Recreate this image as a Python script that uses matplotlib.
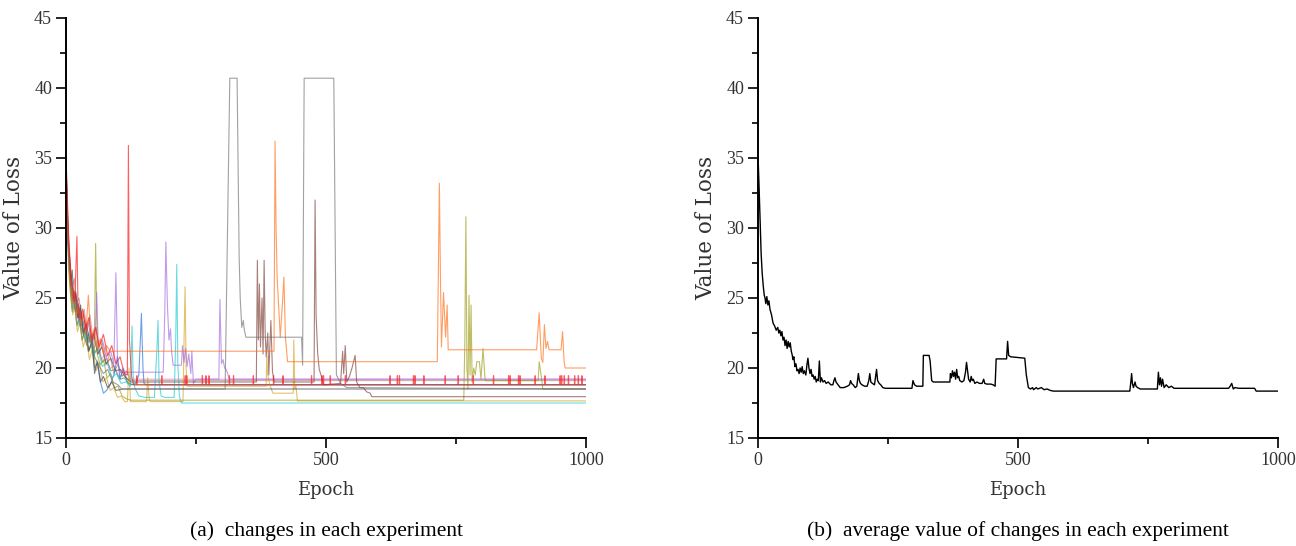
import matplotlib
matplotlib.use("Agg")
import matplotlib.pyplot as plt
from matplotlib.ticker import MultipleLocator

# ---------------------------------------------------------------------------
# Data
# ---------------------------------------------------------------------------

GRAY_X = [0, 3, 6, 10, 14, 18, 23, 28, 34, 40, 47, 55, 63, 72, 80, 90, 100, 107,
          306, 315, 329, 333, 335, 338, 341, 343, 346, 453, 455, 458, 515, 520, 528, 540, 1000]
GRAY_Y = [35.0, 31.0, 28.0, 26.4, 25.5, 24.0, 24.6, 23.0, 22.4, 21.6, 22.3, 20.8, 20.2, 19.6, 19.9, 19.0, 18.8, 18.5,
          18.5, 40.7, 40.7, 27.9, 25.0, 22.9, 23.4, 22.7, 22.2, 22.2, 20.2, 40.7, 40.7, 19.5, 18.9, 18.6, 18.5]

DARK_X = [0, 2, 4, 7, 9, 12, 15, 19, 24, 28, 33, 38, 44, 50, 55, 60, 66, 72, 80, 88, 96, 110, 1000]
DARK_Y = [35.3, 31.5, 29.0, 27.8, 26.0, 27.0, 24.8, 25.4, 23.6, 24.5, 22.4, 23.0, 21.2, 22.0, 19.6, 20.5, 19.0, 19.4,
          18.6, 19.0, 18.4, 18.5, 18.5]

ROSY_X = [0, 3, 6, 9, 12, 16, 20, 25, 30, 35, 40, 46, 52, 58, 64, 70, 77, 84, 92, 100, 108, 116, 125, 1000]
ROSY_Y = [34.0, 30.8, 28.5, 27.0, 25.8, 26.4, 24.6, 25.0, 23.4, 24.2, 22.6, 23.8, 22.0, 22.9, 21.0, 21.8, 20.2, 21.0,
          19.6, 20.3, 19.4, 19.8, 19.1, 19.1]

RED_X = [0, 2, 5, 8, 11, 14, 17, 21, 23, 27, 32, 38, 44, 50, 57, 64, 72, 80, 88, 96, 104, 112, 118, 120, 122, 126, 130]
RED_Y = [35.2, 33.0, 29.5, 27.5, 26.0, 25.2, 24.8, 29.4, 24.5, 23.5, 24.2, 22.8, 23.6, 22.0, 22.9, 21.5, 22.4, 20.9,
         21.6, 20.3, 20.8, 19.6, 19.5, 35.9, 22.0, 19.4, 18.8]
RED_BASE = 18.8
RED_PEAK = 19.45
RED_PULSES = [136, 184, 229, 232, 262, 269, 275, 314, 322, 360, 399, 417, 472, 492, 495, 508, 537,
              623, 637, 641, 668, 671, 688, 729, 754, 783, 822, 851, 854, 870, 873, 902, 921,
              950, 953, 958, 966, 978, 985, 992]

ORANGE_X = [0, 2, 4, 7, 10, 13, 16, 20, 24, 28, 33, 38, 43, 48, 54, 60, 66, 72, 78, 85,
            400, 402, 404, 406, 409, 412, 416, 419, 422, 426, 714, 716, 718, 720, 722, 726, 730, 733, 735,
            905, 910, 914, 917, 920, 923, 926, 929, 933, 952, 955, 958, 960, 1000]
ORANGE_Y = [34.0, 31.5, 28.8, 26.5, 25.9, 24.5, 25.2, 23.8, 24.6, 23.0, 23.9, 22.4, 25.2, 21.9, 22.8, 21.4, 22.1, 21.0, 21.6, 21.2,
            21.2, 36.2, 30.0, 26.5, 24.4, 22.2, 24.5, 26.5, 22.2, 20.45, 20.45, 26.6, 33.2, 26.8, 21.5, 25.4, 22.2, 24.5, 21.3,
            21.3, 23.95, 20.7, 20.4, 23.1, 21.4, 21.9, 21.3, 21.3, 21.3, 22.6, 20.4, 20.0, 20.0]

BROWN_X = [0, 3, 6, 9, 13, 17, 22, 27, 33, 39, 46, 53, 61, 69, 77, 86, 95, 105, 115, 125,
           366, 368, 370, 372, 374, 377, 379, 381, 383, 385, 388, 390, 394, 397, 400,
           477, 479, 481, 484, 487, 492, 495, 528, 532, 534, 537, 540, 545, 550, 556, 559, 565, 572, 578, 585, 588, 1000]
BROWN_Y = [34.5, 30.0, 27.8, 26.0, 24.8, 25.5, 23.6, 24.3, 22.6, 23.2, 21.8, 22.5, 21.0, 21.5, 20.3, 20.7, 19.8, 19.9, 19.3, 19.0,
           19.0, 27.7, 22.0, 26.0, 21.5, 25.0, 21.0, 27.7, 22.5, 20.8, 22.5, 19.5, 23.4, 19.8, 19.0,
           19.0, 32.0, 23.7, 21.05, 19.9, 19.3, 18.8, 18.9, 21.2, 19.6, 21.6, 19.0, 19.4, 20.0, 20.9, 19.0, 18.6, 18.6, 18.3, 18.2, 17.95, 17.95]

PURPLE_X = [0, 3, 6, 10, 14, 19, 24, 30, 36, 43, 50, 56, 59, 62, 70, 78, 86, 92, 96, 99, 104,
            187, 190, 192, 195, 198, 201, 203, 206, 222, 224, 227, 230, 233, 236, 240, 242, 245, 250,
            294, 296, 299, 302, 305, 308, 311, 314, 1000]
PURPLE_Y = [33.5, 30.5, 27.6, 26.0, 24.6, 25.2, 23.4, 24.0, 22.6, 23.2, 21.8, 22.4, 25.4, 21.6, 22.0, 20.8, 21.2, 20.3, 26.8, 20.5, 19.7,
            19.7, 24.0, 29.0, 24.5, 22.0, 22.8, 21.2, 20.2, 20.2, 21.6, 20.4, 21.4, 20.1, 21.0, 19.6, 21.2, 18.9, 19.2,
            19.2, 24.9, 20.3, 20.6, 20.0, 19.9, 19.6, 19.2, 19.2]

CYAN_X = [0, 3, 6, 10, 14, 19, 25, 31, 38, 45, 53, 61, 70, 79, 88, 97, 106, 115, 124, 127, 129, 132, 140,
          152, 170, 175, 177, 179, 183, 190, 208, 211, 213, 215, 218, 222, 1000]
CYAN_Y = [33.0, 29.0, 27.0, 25.6, 24.2, 24.8, 23.0, 23.6, 21.9, 22.5, 20.9, 21.4, 20.1, 20.4, 19.3, 19.6, 18.9, 19.0, 18.7, 23.0, 19.5, 18.6, 18.0,
          17.9, 17.9, 21.5, 23.4, 19.0, 18.0, 17.9, 17.9, 22.0, 27.4, 20.4, 18.0, 17.5, 17.5]

OLIVE_X = [0, 2, 5, 8, 12, 16, 21, 26, 31, 37, 43, 49, 54, 57, 60, 66, 72, 79, 86, 93, 100, 108, 116, 124,
           765, 767, 769, 771, 773, 775, 777, 779, 781, 784, 787, 790, 795, 798, 802, 806, 908, 910, 914, 917, 1000]
OLIVE_Y = [34.2, 31.0, 27.0, 25.5, 24.0, 24.6, 23.0, 23.5, 22.0, 22.6, 21.2, 21.8, 20.6, 28.9, 21.0, 20.2, 20.6, 19.3, 19.6, 18.6, 18.7, 18.0, 17.8, 17.7,
           17.7, 22.0, 30.8, 20.0, 18.5, 25.2, 19.5, 24.5, 19.0, 20.0, 19.5, 20.45, 20.45, 19.2, 21.4, 19.1, 19.1, 20.45, 19.4, 18.5, 18.5]

GOLD_X = [0, 3, 6, 9, 13, 17, 22, 27, 33, 39, 45, 51, 58, 64, 71, 78, 85, 92, 99, 106, 113, 118, 121, 124,
          155, 157, 160, 162, 225, 227, 229, 231, 233, 385, 386, 388, 392, 398, 437, 438, 440, 442, 445, 1000]
GOLD_Y = [33.8, 30.2, 27.2, 25.3, 23.8, 24.5, 22.6, 23.2, 21.5, 22.3, 20.6, 21.4, 19.8, 20.4, 19.0, 19.3, 18.4, 18.6, 17.9, 18.0, 17.6, 17.6, 20.0, 17.6,
          17.6, 19.3, 17.8, 17.6, 17.6, 22.0, 25.8, 20.0, 18.7, 18.7, 20.8, 19.5, 18.8, 18.2, 18.2, 22.0, 18.5, 18.8, 17.65, 17.65]

BLUE_X = [0, 2, 5, 8, 12, 16, 21, 26, 31, 37, 43, 49, 55, 61, 67, 72, 78, 85, 92, 99, 104, 110, 118, 126, 134, 140,
          143, 145, 148, 150, 155, 1000]
BLUE_Y = [34.6, 32.0, 28.4, 26.0, 24.2, 25.0, 23.1, 23.6, 22.0, 22.7, 21.2, 21.7, 20.0, 20.4, 18.9, 18.2, 18.4, 18.8, 19.5, 20.8, 19.2, 20.0, 19.0, 18.8, 18.9, 19.5,
          22.0, 23.9, 20.0, 18.9, 18.8, 18.8]

GREEN_X = [0, 3, 6, 9, 12, 16, 20, 25, 30, 36, 42, 48, 55, 62, 70, 78, 86, 95, 104, 112, 120, 130, 1000]
GREEN_Y = [33.2, 30.5, 27.5, 25.8, 25.2, 25.0, 24.0, 24.2, 23.0, 23.4, 22.0, 22.5, 21.1, 21.5, 20.4, 20.7, 19.8, 19.9, 19.2, 19.3, 18.9, 18.8, 18.8]

PINK_X = [0, 2, 5, 8, 11, 15, 19, 24, 29, 35, 41, 47, 54, 61, 68, 76, 84, 92, 100, 110, 120, 1000]
PINK_Y = [34.8, 32.0, 29.0, 27.2, 26.0, 25.3, 24.0, 24.5, 23.2, 23.8, 22.2, 22.8, 21.4, 22.0, 20.6, 21.0, 19.9, 20.2, 19.4, 19.5, 19.2, 19.2]

AVG_X = [0, 2, 4, 6, 8, 10, 12, 13.5, 15, 17, 19, 21, 23, 26, 29, 32, 35, 38, 40, 42, 44, 46, 48, 50,
         52, 54, 56, 58, 60, 62, 64, 66, 67, 69, 71, 73, 75, 77, 79, 81, 83, 85, 87, 89, 92, 94, 96, 98,
         100, 102, 104, 106, 108, 110, 112, 114, 116, 118, 120, 122, 125, 128, 131, 135, 140, 144, 146,
         148, 150, 154, 158, 165, 172, 176, 178, 180, 183, 187, 190, 193, 195, 197, 200, 205, 210, 213,
         215, 217, 220, 224, 228, 230, 233, 236, 240, 245, 296, 298, 301, 305, 312, 317, 318, 329, 331,
         334, 337, 369, 370, 372, 374, 376, 378, 380, 382, 384, 386, 388, 392, 396, 399, 401, 403, 405,
         408, 410, 412, 414, 417, 421, 426, 431, 434, 436, 440, 448, 452, 456, 458, 478, 480, 482, 486,
         500, 513, 516, 520, 524, 528, 530, 535, 538, 545, 550, 556, 562, 568, 715, 717, 718.5, 720, 722,
         725, 727, 730, 735, 768, 770, 772, 774, 776, 778, 781, 785, 790, 795, 800, 905, 908, 911, 914,
         917, 925, 955, 958, 1000]
AVG_Y = [35.2, 33.0, 30.5, 28.2, 26.8, 25.9, 25.2, 25.0, 24.6, 25.1, 24.5, 24.8, 24.2, 23.8, 23.2, 23.0, 22.7, 22.9, 22.5, 22.7, 22.3, 22.6, 22.0, 22.2,
         21.6, 22.0, 21.4, 21.9, 21.5, 21.8, 21.2, 20.9, 20.6, 20.8, 20.1, 20.3, 19.8, 19.9, 19.6, 20.0, 19.7, 20.1, 19.6, 19.8, 19.5, 20.2, 20.7, 20.0,
         19.6, 19.9, 19.4, 19.5, 19.2, 19.4, 19.0, 19.2, 19.1, 20.5, 19.0, 19.3, 19.0, 19.1, 18.9, 19.0, 18.8, 18.8, 19.1,
         19.3, 19.0, 18.8, 18.6, 18.6, 18.7, 18.8, 19.1, 18.9, 18.8, 18.6, 18.7, 19.6, 19.1, 18.9, 18.8, 18.7, 18.7, 19.1,
         19.6, 19.0, 18.9, 18.8, 19.9, 19.1, 18.9, 18.8, 18.6, 18.55, 18.55, 19.1, 18.8, 18.7, 18.7, 18.7, 20.9, 20.9, 20.5,
         19.1, 19.0, 19.0, 19.6, 19.3, 19.8, 19.4, 19.7, 19.2, 19.9, 19.3, 19.4, 19.1, 19.0, 19.1, 19.7, 20.4, 19.8, 19.2,
         19.0, 19.4, 19.1, 19.2, 18.9, 19.0, 18.9, 18.9, 19.2, 18.9, 18.85, 18.85, 18.8, 18.7, 20.65, 20.65, 21.9, 20.9, 20.8,
         20.75, 20.7, 19.5, 18.6, 18.5, 18.6, 18.45, 18.6, 18.5, 18.6, 18.45, 18.5, 18.4, 18.35, 18.35, 19.0, 19.6, 18.9, 18.6,
         19.0, 18.7, 18.6, 18.5, 18.5, 19.7, 18.8, 19.3, 18.7, 19.2, 18.6, 18.8, 18.6, 18.7, 18.55, 18.55, 18.7, 18.9, 18.5,
         18.6, 18.55, 18.55, 18.35, 18.35]

SERIES = [
    (GREEN_X, GREEN_Y, "#2ca02c"),
    (PINK_X, PINK_Y, "#e377c2"),
    (ROSY_X, ROSY_Y, "#b08080"),
    (BLUE_X, BLUE_Y, "#1f6fd8"),
    (GOLD_X, GOLD_Y, "#d4a020"),
    (OLIVE_X, OLIVE_Y, "#9a9a10"),
    (CYAN_X, CYAN_Y, "#17c8cf"),
    (PURPLE_X, PURPLE_Y, "#a066e0"),
    (DARK_X, DARK_Y, "#404040"),
    (BROWN_X, BROWN_Y, "#7a3a32"),
    (ORANGE_X, ORANGE_Y, "#ff6a10"),
    (GRAY_X, GRAY_Y, "#6f6f6f"),
]

LABEL_FONT = "DejaVu Serif"
TICK_FONT = "Liberation Serif"
TEXT_COLOR = "#333333"


def red_series():
    xs, ys = list(RED_X), list(RED_Y)
    for p in RED_PULSES:
        xs += [p - 0.3, p, p + 0.5, p + 0.8]
        ys += [RED_BASE, RED_PEAK, RED_PEAK, RED_BASE]
    xs.append(1000)
    ys.append(RED_BASE)
    return xs, ys


def style_axes(ax):
    ax.set_xlim(0, 1000)
    ax.set_ylim(15, 45)
    for side in ("top", "right"):
        ax.spines[side].set_visible(False)
    for side in ("left", "bottom"):
        ax.spines[side].set_linewidth(1.4)
    ax.xaxis.set_major_locator(MultipleLocator(500))
    ax.xaxis.set_minor_locator(MultipleLocator(250))
    ax.yaxis.set_major_locator(MultipleLocator(5))
    ax.yaxis.set_minor_locator(MultipleLocator(2.5))
    ax.tick_params(which="major", direction="out", length=7, width=1.2, labelsize=13,
                   labelcolor=TEXT_COLOR, pad=3)
    ax.tick_params(which="minor", direction="out", length=4, width=1.2)
    for lab in ax.get_xticklabels() + ax.get_yticklabels():
        lab.set_fontfamily(TICK_FONT)
    ax.set_xlabel("Epoch", fontsize=13, family=LABEL_FONT, color=TEXT_COLOR, labelpad=9)
    ax.set_ylabel("Value of Loss", fontsize=15.5, family=LABEL_FONT, color=TEXT_COLOR, labelpad=6)


fig = plt.figure(figsize=(12.96, 5.46), dpi=100)
ax_a = fig.add_axes([66 / 1296, 108 / 546, 520 / 1296, 420 / 546])
ax_b = fig.add_axes([758 / 1296, 108 / 546, 520 / 1296, 420 / 546])

for xs, ys, color in SERIES:
    ax_a.plot(xs, ys, color=color, lw=0.8, alpha=0.65)
rx, ry = red_series()
ax_a.plot(rx, ry, color="#ff1a1a", lw=0.8, alpha=0.7)

ax_b.plot(AVG_X, AVG_Y, color="black", lw=1.0)

style_axes(ax_a)
style_axes(ax_b)

fig.text(326 / 1296, 1 - 531 / 546, "(a)  changes in each experiment", ha="center", va="center",
         fontsize=15.5, family="Liberation Serif", color="black")
fig.text(1018 / 1296, 1 - 531 / 546, "(b)  average value of changes in each experiment", ha="center",
         va="center", fontsize=15.5, family="Liberation Serif", color="black")

fig.savefig("out.png", dpi=100)
